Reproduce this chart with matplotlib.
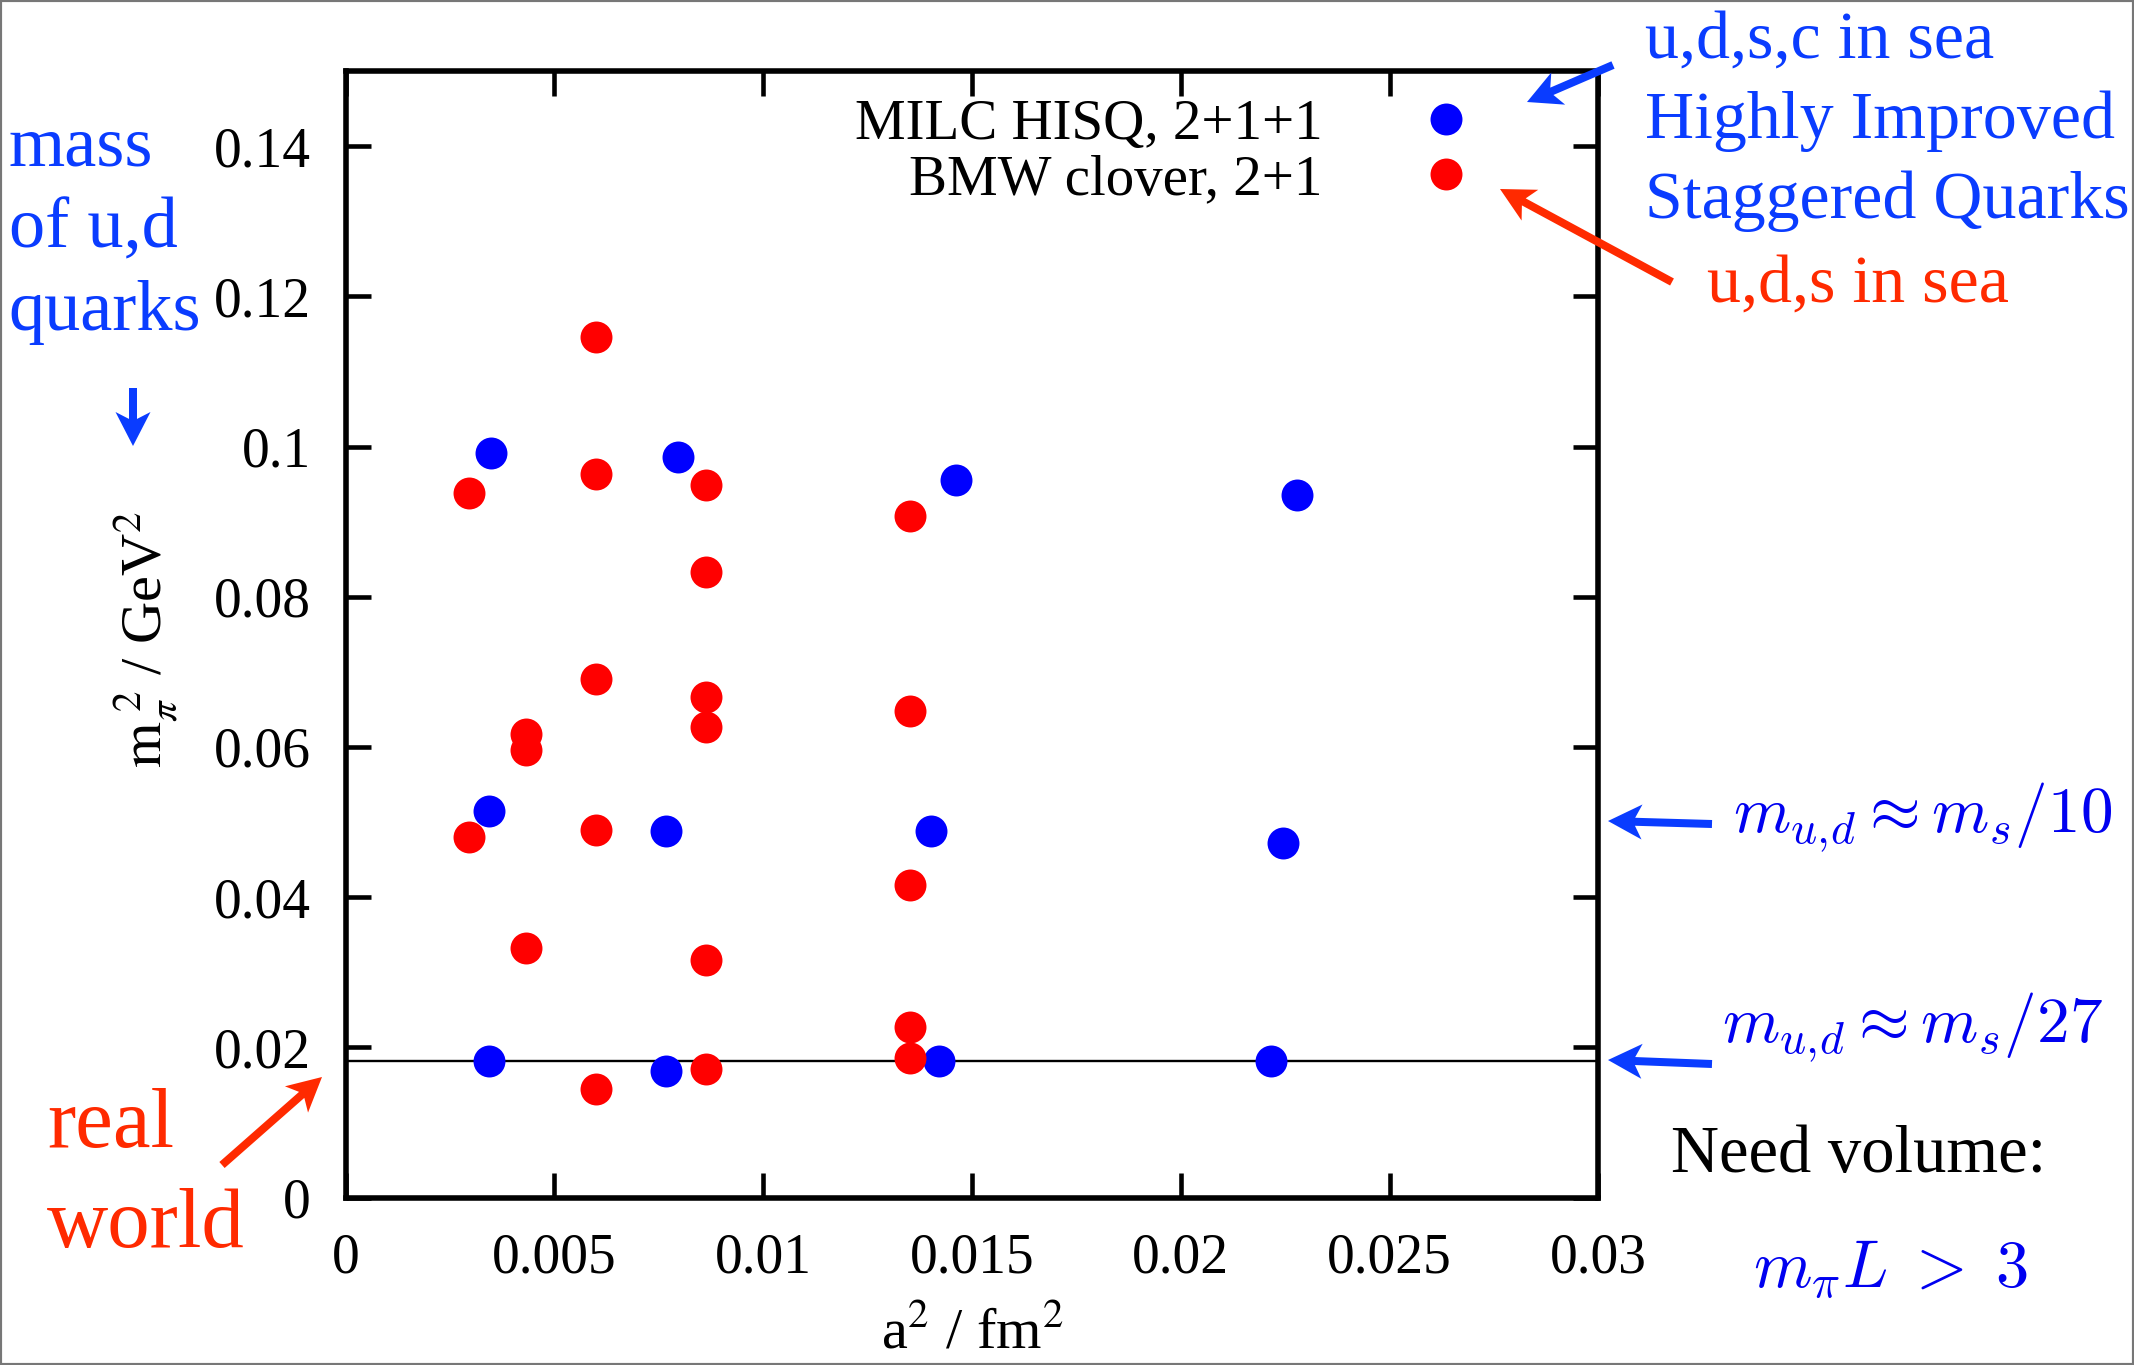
import matplotlib
matplotlib.use("Agg")
import numpy as np
import matplotlib.pyplot as plt
from matplotlib.patches import Polygon, Rectangle

plt.rcParams['font.family'] = ['Liberation Serif', 'DejaVu Serif']
plt.rcParams['mathtext.fontset'] = 'stix'

# MILC HISQ 2+1+1 ensembles
milc_a2 = [0.00347, 0.00795, 0.01462, 0.02278,
           0.00343, 0.00767, 0.01401, 0.02245,
           0.00343, 0.00767, 0.01422, 0.02216]
milc_mpi2 = [0.0992, 0.0986, 0.0955, 0.0936,
             0.0515, 0.0488, 0.0488, 0.0472,
             0.0182, 0.0169, 0.0182, 0.0182]

# BMW clover 2+1 ensembles
bmw_a2 = [0.0060, 0.00296, 0.0060, 0.00863, 0.01352, 0.00863,
          0.0060, 0.00863, 0.00863, 0.01352, 0.00432, 0.00432,
          0.00296, 0.0060, 0.01352, 0.00432, 0.00863, 0.01352,
          0.01352, 0.00863, 0.0060]
bmw_mpi2 = [0.1146, 0.0938, 0.0963, 0.0949, 0.0907, 0.0833,
            0.0690, 0.0667, 0.0626, 0.0648, 0.0617, 0.0596,
            0.0480, 0.0490, 0.0416, 0.0333, 0.0317, 0.0227,
            0.0186, 0.0171, 0.0144]

physical_mpi2 = 0.0182

xticks = [0, 0.005, 0.01, 0.015, 0.02, 0.025, 0.03]
xticklabels = ["0", "0.005", "0.01", "0.015", "0.02", "0.025", "0.03"]
yticks = [0, 0.02, 0.04, 0.06, 0.08, 0.1, 0.12, 0.14]
yticklabels = ["0", "0.02", "0.04", "0.06", "0.08", "0.1", "0.12", "0.14"]

BLUE = "#0000ff"
RED = "#ff0000"
TBLUE = "#0a3cff"
TRED = "#ff2a00"
MBLUE = "#0000f0"

W, H = 2134, 1365
fig = plt.figure(figsize=(W / 100, H / 100), dpi=100)
ax = fig.add_axes([0.162, 0.1226, 0.587, 0.8254])

ax.plot(milc_a2, milc_mpi2, 'o', color=BLUE, markersize=23, markeredgewidth=0,
        label="MILC HISQ, 2+1+1", zorder=3)
ax.plot(bmw_a2, bmw_mpi2, 'o', color=RED, markersize=23, markeredgewidth=0,
        label="BMW clover, 2+1", zorder=3)
ax.axhline(physical_mpi2, color="black", linewidth=1.7, zorder=2)

ax.set_xlim(0, 0.03)
ax.set_ylim(0, 0.15)
ax.set_xticks(xticks)
ax.set_xticklabels(xticklabels)
ax.set_yticks(yticks)
ax.set_yticklabels(yticklabels)
ax.tick_params(direction='in', length=18, width=3.3, labelsize=40,
               top=True, right=True)
ax.tick_params(axis='x', pad=25)
ax.tick_params(axis='y', pad=25)
for sp in ax.spines.values():
    sp.set_linewidth(4)

ax.set_ylabel(r'$\mathrm{m}_\pi^{\ 2}$ / GeV$^2$', fontsize=42)
ax.yaxis.set_label_coords(-0.132, 0.495)
ax.set_xlabel(r'a$^2$ / fm$^2$', fontsize=42, va='baseline')
ax.xaxis.set_label_coords(0.5, -0.134)

ax.legend(loc='upper right', bbox_to_anchor=(0.924, 0.975), frameon=False,
          markerfirst=False, fontsize=41, handletextpad=1.17, borderpad=0,
          borderaxespad=0, labelspacing=0.05, handlelength=2)

# annotations (figure coordinates)
fig.text(0.771, 0.9575, "u,d,s,c in sea", color=TBLUE, fontsize=49, va='baseline')
fig.text(0.771, 0.8989, "Highly Improved", color=TBLUE, fontsize=49, va='baseline')
fig.text(0.771, 0.8403, "Staggered Quarks", color=TBLUE, fontsize=49, va='baseline')
fig.text(0.800, 0.7790, "u,d,s in sea", color=TRED, fontsize=49, va='baseline')

fig.text(0.004, 1 - 166 / H, "mass", color=TBLUE, fontsize=52, va='baseline')
fig.text(0.004, 1 - 247 / H, "of u,d", color=TBLUE, fontsize=52, va='baseline')
fig.text(0.004, 1 - 330 / H, "quarks", color=TBLUE, fontsize=52, va='baseline')

fig.text(0.022, 1 - 1147 / H, "real", color=TRED, fontsize=61, va='baseline')
fig.text(0.022, 1 - 1247 / H, "world", color=TRED, fontsize=61, va='baseline')

fig.text(0.812, 1 - 832 / H, r'$m_{u,\!d} \approx m_s/10$', color=MBLUE,
         fontsize=47, va='baseline', math_fontfamily='cm')
fig.text(0.807, 1 - 1042 / H, r'$m_{u,\!d} \approx m_s/27$', color=MBLUE,
         fontsize=47, va='baseline', math_fontfamily='cm')
fig.text(0.871, 1 - 1172 / H, "Need volume:", color="black", fontsize=48,
         va='baseline', ha='center')
fig.text(0.886, 1 - 1287 / H, r'$m_\pi L\;>\;3$', color=MBLUE, fontsize=48,
         va='baseline', ha='center', math_fontfamily='cm')


def arrow(tail, tip, color, w=4.0, hl=34, hw=17.5, notch=9):
    # stealth-style arrow, coordinates in pixels from the top-left corner
    t = np.array([tail[0], H - tail[1]], float)
    p = np.array([tip[0], H - tip[1]], float)
    u = (p - t) / np.hypot(*(p - t))
    n = np.array([-u[1], u[0]])
    back = hl - notch + notch * w / hw
    pts = [t + n * w, p - u * back + n * w, p - u * hl + n * hw, p,
           p - u * hl - n * hw, p - u * back - n * w, t - n * w]
    pts = [(q[0] / W, q[1] / H) for q in pts]
    fig.add_artist(Polygon(pts, closed=True, transform=fig.transFigure,
                           facecolor=color, edgecolor='none'))


arrow((133, 388), (133, 446), TBLUE)
arrow((1613, 65), (1527, 102), TBLUE)
arrow((1672, 282), (1500, 189), TRED)
arrow((222, 1165), (322, 1077), TRED)
arrow((1712, 824), (1608, 821), TBLUE)
arrow((1712, 1064), (1608, 1060), TBLUE)

fig.add_artist(Rectangle((0, 0), 1, 1, transform=fig.transFigure, fill=False,
                         edgecolor="#777777", linewidth=3))

fig.savefig("out.png", dpi=100)
